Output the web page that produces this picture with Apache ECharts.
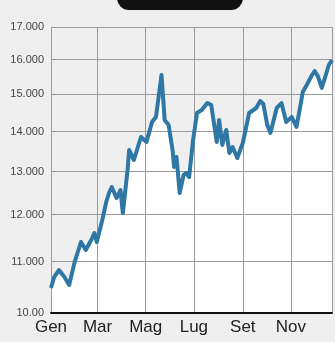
<!DOCTYPE html>
<html>
<head>
<meta charset="utf-8">
<script src="https://cdn.jsdelivr.net/npm/echarts@6/dist/echarts.min.js"></script>
<style>
html,body{margin:0;padding:0;background:#efefef;}
#c{width:335px;height:342px;}
</style>
</head>
<body>
<div id="c"></div>
<script>
// Day of year (0 = 1 Gen) and index value
var days = [0,4,10,17,23,30,38,44,51,55,58,65,70,74,77,83,88,91,97,99,105,114,121,128,133,140,144,149,154,156,159,163,168,171,175,180,185,191,198,203,210,213,217,222,226,230,236,243,251,260,265,269,274,278,286,292,298,305,311,315,319,324,330,334,338,343,347,352,356];
var values = [10475,10690,10830,10690,10533,10993,11408,11240,11451,11601,11408,11883,12288,12517,12633,12378,12563,12038,13039,13532,13282,13862,13734,14253,14386,15552,14306,14173,13532,13110,13357,12493,12918,12966,12871,13785,14493,14574,14764,14710,13734,14306,13658,14042,13456,13607,13331,13709,14493,14628,14819,14737,14173,13966,14628,14764,14253,14386,14122,14574,15069,15266,15523,15667,15523,15181,15465,15842,15990];
var monthTicks = [0,59,120,181,243,304];
var monthLabels = ['Gen','Mar','Mag','Lug','Set','Nov'];
var yTicks = [10000,11000,12000,13000,14000,15000,16000,17000];
var yLabels = ['10.00','11.000','12.000','13.000','14.000','15.000','16.000','17.000'];

var pts = days.map(function(d,i){return [d, values[i]];});
var chart = echarts.init(document.getElementById('c'));
chart.setOption({
  backgroundColor:'#efefef',
  animation:false,
  graphic:[{type:'rect',shape:{x:117,y:-30,width:126,height:40,r:12},style:{fill:'#111'}}],
  grid:{left:51,right:3,top:27,bottom:29},
  xAxis:{type:'value',min:0,max:356,z:2,
    axisLine:{show:true,lineStyle:{color:'#111',width:2}},
    axisTick:{show:false,customValues:monthTicks.concat([356])},
    splitLine:{show:true,lineStyle:{color:'#9a9a9a',width:1}},
    axisLabel:{customValues:monthTicks,margin:6,fontSize:17,color:'#222',fontFamily:'Liberation Sans',
      formatter:function(v){var i=monthTicks.indexOf(Math.round(v));return i>=0?monthLabels[i]:'';}}
  },
  yAxis:{type:'log',logBase:10,min:10000,max:17000,z:2,
    axisLine:{show:false},
    axisTick:{show:false,customValues:yTicks},
    splitLine:{show:true,lineStyle:{color:'#9a9a9a',width:1}},
    axisLabel:{customValues:yTicks,margin:7,fontSize:11,color:'#444',fontFamily:'Liberation Sans',
      formatter:function(v){var i=yTicks.indexOf(Math.round(v));return i>=0?yLabels[i]:'';}}
  },
  series:[
    {type:'line',data:pts,z:1,symbol:'none',lineStyle:{width:0,opacity:0},
     areaStyle:{color:'#ffffff',opacity:1,origin:'start'},silent:true},
    {type:'line',data:pts,z:3,symbol:'none',lineStyle:{color:'#2f78a6',width:4,join:'round'}}
  ]
});
</script>
</body>
</html>
